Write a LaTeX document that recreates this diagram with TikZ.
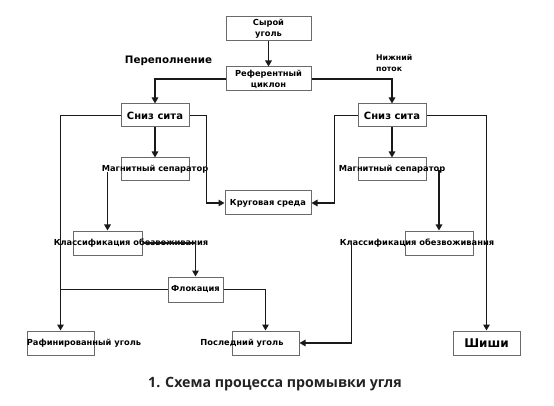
\documentclass[tikz,border=0pt]{standalone}
\usepackage{fontspec}
\setmainfont{DejaVu Sans}
\newfontfamily\capfont{Open Sans}
\usetikzlibrary{arrows.meta}
\definecolor{boxgray}{HTML}{6A6A6A}
\definecolor{captxt}{HTML}{222222}
\begin{document}
\begin{tikzpicture}[x=1pt,y=-1pt,
  box/.style={draw=boxgray,line width=1pt,minimum width=#1,minimum height=24pt,inner sep=0pt,
    font=\fontsize{8.3}{11}\selectfont\bfseries,align=center},
  box/.default=68pt,
  conn/.style={line width=1.5pt,draw=black!90,-{Triangle[length=6pt,width=6.5pt]}},
  plain/.style={line width=1.5pt,draw=black!90},
  big/.style={font=\fontsize{10}{12}\selectfont\bfseries}]
\useasboundingbox (0,0) rectangle (554,406);

\node[box=85pt] (raw) at (268.5,29) {Сырой\\уголь};
\node[box=85pt] (cyc) at (268.5,79) {Референтный\\циклон};
\node[box,big,minimum height=23pt] (sL) at (155,115.5) {Сниз сита};
\node[box,big,minimum height=23pt] (sR) at (392,115.5) {Сниз сита};
\node[box,minimum height=23pt] (mL) at (155,169.5) {\makebox[0pt]{Магнитный сепаратор}};
\node[box,minimum height=23pt] (mR) at (392,169.5) {\makebox[0pt]{Магнитный сепаратор}};
\node[box=86pt] (krug) at (268,203) {Круговая среда};
\node[box=69pt] (cL) at (107.5,243) {\makebox[0pt]{\hspace*{47pt}Классификация обезвоживания}};
\node[box] (cR) at (439,243) {\makebox[0pt]{Классификация обезвоживания\hspace*{44pt}}};
\node[box=55pt,minimum height=25pt] (flo) at (195.5,289.5) {Флокация};
\node[box=67pt] (raf) at (60.5,343) {\makebox[0pt]{\hspace*{47pt}Рафинированный уголь}};
\node[box=67pt] (last) at (265.5,343) {\makebox[0pt]{Последний уголь\hspace*{47pt}}};
\node[box=67pt,font=\fontsize{12}{14}\selectfont\bfseries] (shi) at (486.5,343) {Шиши};

\node[font=\fontsize{10.3}{12}\selectfont\bfseries] (over) at (168.5,61) {Переполнение};
\node[font=\fontsize{7.8}{11}\selectfont\bfseries,align=left,anchor=north west,inner sep=0pt] (down) at (376,54) {Нижний\\поток};
\node[font=\capfont\fontsize{14.2}{16}\selectfont\bfseries,text=captxt] (cap) at (275,384) {1. Схема процесса промывки угля};

\draw[conn] (raw.south) -- (cyc.north);
\draw[conn] (cyc.west) -| (sL.north);
\draw[conn] (cyc.east) -| (sR.north);
\draw[conn] (sL.west) -| (raf.north);
\draw[conn] (sL.east) -| ([xshift=-18pt]krug.west) -- (krug.west);
\draw[conn] (sR.west) -| ([xshift=23pt]krug.east) -- (krug.east);
\draw[conn] (sR.east) -| (shi.north);
\draw[conn] (sL.south) -- (mL.north);
\draw[conn] (sR.south) -- (mR.north);
\draw[conn] ([yshift=-3pt]cL.north |- mL.center) -- (cL.north);
\draw[conn] ([yshift=-1pt]cR.north |- mR.center) -- (cR.north);
\draw[conn] (cL.east) -| (flo.north);
\draw[conn] ([xshift=-53pt]cR.west) |- (last.east);
\draw[plain] (flo.west) -- (flo.west -| raf.north);
\draw[conn] (flo.east) -| (last.north);
\end{tikzpicture}
\end{document}
